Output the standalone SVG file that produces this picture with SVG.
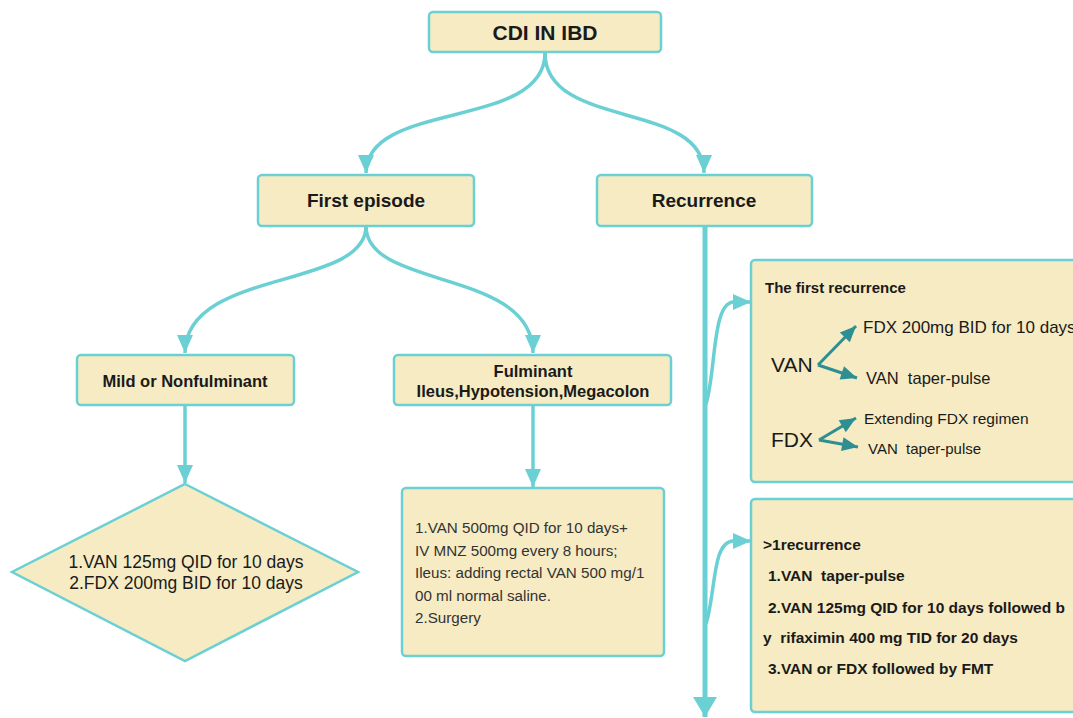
<svg xmlns="http://www.w3.org/2000/svg" width="1073" height="718" viewBox="0 0 1073 718">
<defs>
<marker id="ah" markerUnits="userSpaceOnUse" markerWidth="18" markerHeight="16" refX="18" refY="8" orient="auto" overflow="visible">
<path d="M0,0 L18,8 L0,16 z" fill="#6bd0d4"/>
</marker>
<marker id="ahBig" markerUnits="userSpaceOnUse" markerWidth="20" markerHeight="24" refX="20" refY="12" orient="auto" overflow="visible">
<path d="M0,0 L20,12 L0,24 z" fill="#6bd0d4"/>
</marker>
<marker id="ahDark" markerUnits="userSpaceOnUse" markerWidth="16" markerHeight="14" refX="16" refY="7" orient="auto" overflow="visible">
<path d="M0,0 L16,7 L0,14 z" fill="#2e8f93"/>
</marker>
</defs>
<style>
.box{fill:#f6ebc3;stroke:#6bd0d4;stroke-width:2.5}
.t{font-family:"Liberation Sans",Arial,sans-serif;fill:#1a1a1a;white-space:pre}
.b{font-weight:bold}
.c{text-anchor:middle}
.con{fill:none;stroke:#6bd0d4;stroke-width:3.5}
.dk{fill:none;stroke:#2e8f93;stroke-width:3}
</style>
<rect width="1073" height="718" fill="#ffffff"/>

<g id="connectors">
<path class="con" d="M545,53 C545,130 366,100 366,173" marker-end="url(#ah)"/>
<path class="con" d="M545,53 C545,130 704,100 704,173" marker-end="url(#ah)"/>
<path class="con" d="M366,226 C366,290 185,268 185,353" marker-end="url(#ah)"/>
<path class="con" d="M366,226 C366,290 533,268 533,353" marker-end="url(#ah)"/>
<path class="con" d="M185,406 L185,483" marker-end="url(#ah)"/>
<path class="con" d="M533,406 L533,487" marker-end="url(#ah)"/>
<path class="con" style="stroke-width:5" d="M705,226 L705,717" marker-end="url(#ahBig)"/>
<path class="con" d="M706,404 C716,372 712,304 733,302 L751,302" marker-end="url(#ah)"/>
<path class="con" d="M706,624 C716,592 712,542 733,541 L751,541" marker-end="url(#ah)"/>
</g>

<g id="cdi">
<rect class="box" x="429" y="12" width="232" height="40" rx="4"/>
<text class="t b c" x="545" y="40" font-size="21">CDI IN IBD</text>
</g>

<g id="first-episode">
<rect class="box" x="258" y="175" width="216" height="51" rx="4"/>
<text class="t b c" x="366" y="207" font-size="19">First episode</text>
</g>

<g id="recurrence">
<rect class="box" x="597" y="175" width="215" height="51" rx="4"/>
<text class="t b c" x="704" y="207" font-size="19">Recurrence</text>
</g>

<g id="mild">
<rect class="box" x="77" y="355" width="217" height="50" rx="4"/>
<text class="t b c" x="185" y="387" font-size="16.5">Mild or Nonfulminant</text>
</g>

<g id="fulminant">
<rect class="box" x="394" y="355" width="277" height="50" rx="4"/>
<text class="t b c" x="533" y="377" font-size="16.5">Fulminant</text>
<text class="t b c" x="533" y="397" font-size="16.5">Ileus,Hypotension,Megacolon</text>
</g>

<g id="mild-treatment">
<polygon class="box" points="185,484 358,572 185,661 12,572"/>
<text class="t c" x="186" y="568" font-size="17.5" fill="#222">1.VAN 125mg QID for 10 days</text>
<text class="t c" x="186" y="589" font-size="17.5" fill="#222">2.FDX 200mg BID for 10 days</text>
</g>

<g id="fulminant-treatment">
<rect class="box" x="402" y="488" width="262" height="168" rx="4"/>
<text class="t" x="415" y="533" font-size="15.2" style="fill:#333">1.VAN 500mg QID for 10 days+</text>
<text class="t" x="415" y="556" font-size="15.2" style="fill:#333">IV MNZ 500mg every 8 hours;</text>
<text class="t" x="415" y="578" font-size="15.2" style="fill:#333">Ileus: adding rectal VAN 500 mg/1</text>
<text class="t" x="415" y="601" font-size="15.2" style="fill:#333">00 ml normal saline.</text>
<text class="t" x="415" y="623" font-size="15.2" style="fill:#333">2.Surgery</text>
</g>

<g id="first-recurrence">
<rect class="box" x="751" y="260" width="340" height="222" rx="4"/>
<text class="t b" x="765" y="293" font-size="15">The first recurrence</text>
<text class="t" x="771" y="372" font-size="21">VAN</text>
<path class="dk" d="M818,365 L856,326" marker-end="url(#ahDark)"/>
<path class="dk" d="M818,365 L857,378" marker-end="url(#ahDark)"/>
<text class="t" x="863" y="333" font-size="17">FDX 200mg BID for 10 days</text>
<text class="t" x="866" y="384" font-size="16.5">VAN  taper-pulse</text>
<text class="t" x="771" y="447" font-size="21">FDX</text>
<path class="dk" d="M819,440 L856,418" marker-end="url(#ahDark)"/>
<path class="dk" d="M819,440 L858,447" marker-end="url(#ahDark)"/>
<text class="t" x="864" y="424" font-size="15.5">Extending FDX regimen</text>
<text class="t" x="868" y="454" font-size="15">VAN  taper-pulse</text>
</g>

<g id="multiple-recurrence">
<rect class="box" x="751" y="499" width="340" height="213" rx="4"/>
<text class="t b" x="763" y="550" font-size="15.5">&gt;1recurrence</text>
<text class="t b" x="768" y="581" font-size="15.5">1.VAN  taper-pulse</text>
<text class="t b" x="768" y="613" font-size="15.5">2.VAN 125mg QID for 10 days followed b</text>
<text class="t b" x="763" y="643" font-size="15.5">y  rifaximin 400 mg TID for 20 days</text>
<text class="t b" x="768" y="674" font-size="15.5">3.VAN or FDX followed by FMT</text>
</g>
</svg>
